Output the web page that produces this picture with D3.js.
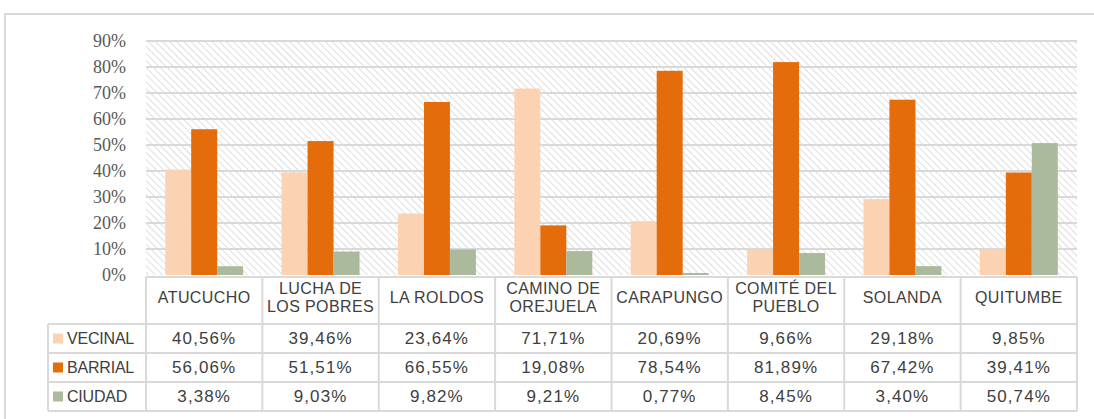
<!DOCTYPE html>
<html><head><meta charset="utf-8">
<script src="https://cdn.jsdelivr.net/npm/d3@7"></script>
<style>
html,body{margin:0;padding:0;background:#fff;}
svg{display:block;}
</style></head>
<body><svg id="chart" width="1094" height="419"></svg>
<script>
const categories = ["ATUCUCHO", "LUCHA DE\nLOS POBRES", "LA ROLDOS", "CAMINO DE\nOREJUELA", "CARAPUNGO", "COMITÉ DEL\nPUEBLO", "SOLANDA", "QUITUMBE"];
const seriesNames = ["VECINAL", "BARRIAL", "CIUDAD"];
const vecinal = [40.56, 39.46, 23.64, 71.71, 20.69, 9.66, 29.18, 9.85];
const barrial = [56.06, 51.51, 66.55, 19.08, 78.54, 81.89, 67.42, 39.41];
const ciudad  = [3.38, 9.03, 9.82, 9.21, 0.77, 8.45, 3.40, 50.74];
const yTicks = [0, 10, 20, 30, 40, 50, 60, 70, 80, 90];
const colors = ["#FBD3B2", "#E46C0A", "#ABBA9C"];

const series = [vecinal, barrial, ciudad];
const svg = d3.select("#chart");
const W = 1094, H = 419;
const plotL = 146, plotR = 1077, plotT = 41, plotB = 275;
const tableTop = 277, headerB = 324, rowH = 29, legendL = 48;
const grid = "#d9d9d9";

// outer border
svg.append("path").attr("d", `M5,${H} L5,14 L${W},14`).attr("fill","none").attr("stroke","#d9d9d9").attr("stroke-width",2);

// hatch pattern
const defs = svg.append("defs");
const pat = defs.append("pattern").attr("id","hatch").attr("patternUnits","userSpaceOnUse")
  .attr("width",5).attr("height",5).attr("patternTransform","rotate(-45)");
pat.append("rect").attr("width",5).attr("height",5).attr("fill","#fff");
pat.append("line").attr("x1",0).attr("y1",0).attr("x2",0).attr("y2",5).attr("stroke","#d4d4d4").attr("stroke-width",1.5);

const x = d3.scaleBand().domain(d3.range(categories.length)).range([plotL, plotR]).padding(0);
const y = d3.scaleLinear().domain([0, 90]).range([plotB, plotT]);
const xi = d3.scaleBand().domain(d3.range(3)).range([0.165*x.bandwidth(), 0.835*x.bandwidth()]).padding(0);

svg.append("rect").attr("x",plotL).attr("y",plotT).attr("width",plotR-plotL).attr("height",plotB-plotT).attr("fill","url(#hatch)");

// gridlines
svg.append("g").selectAll("line").data(yTicks.filter(t=>t>0)).join("line")
  .attr("x1",plotL).attr("x2",plotR).attr("y1",d=>y(d)).attr("y2",d=>y(d))
  .attr("stroke",grid).attr("stroke-width",2);

// y axis labels
const yAxis = d3.axisLeft(y).tickValues(yTicks).tickFormat(d=>d+"%").tickSize(0).tickPadding(0);
const ya = svg.append("g").attr("transform",`translate(126,0)`).call(yAxis)
  .attr("font-family","'Liberation Serif', 'DejaVu Serif', serif").attr("font-size",18);
ya.select(".domain").remove();
ya.selectAll("text").style("font-family","'Liberation Serif', 'DejaVu Serif', serif").style("font-size","18px").attr("fill","#595959");

// bars
const gBars = svg.append("g");
categories.forEach((c,i)=>{
  series.forEach((s,j)=>{
    gBars.append("rect")
      .attr("x", x(i)+xi(j)).attr("width", xi.bandwidth())
      .attr("y", y(s[i])).attr("height", y(0)-y(s[i]))
      .attr("fill", colors[j]);
  });
});

// table
const gT = svg.append("g");
const tableB = headerB + rowH*3;
const fmt = v => d3.format(".2f")(v).replace(".", ",") + "%";
const lineAttrs = sel => sel.attr("stroke",grid).attr("stroke-width",2);
gT.append("line").attr("x1",plotL).attr("x2",plotR).attr("y1",tableTop).attr("y2",tableTop).call(lineAttrs);
for (let r=0;r<=3;r++){
  const yy = headerB + r*rowH;
  gT.append("line").attr("x1",legendL).attr("x2",plotR).attr("y1",yy).attr("y2",yy).call(lineAttrs);
}
gT.append("line").attr("x1",legendL).attr("x2",legendL).attr("y1",headerB).attr("y2",tableB).call(lineAttrs);
for (let i=0;i<=categories.length;i++){
  const xx = i<categories.length ? x(i) : plotR;
  gT.append("line").attr("x1",xx).attr("x2",xx).attr("y1",tableTop).attr("y2",tableB).call(lineAttrs);
}
categories.forEach((c,i)=>{
  const lines = c.split("\n");
  const cx = x(i)+x.bandwidth()/2;
  const cy = (tableTop+headerB)/2 - 3;
  const t = gT.append("text").attr("x",cx).attr("text-anchor","middle")
    .attr("font-family","'Liberation Sans', Arial, sans-serif").attr("font-size",16)
    .attr("fill","#404040").attr("letter-spacing",0.4);
  lines.forEach((ln,k)=>{
    t.append("tspan").attr("x",cx).attr("y", cy + (k-(lines.length-1)/2)*18).attr("dominant-baseline","central").text(ln);
  });
});
seriesNames.forEach((name,j)=>{
  const cy = headerB + j*rowH + rowH/2;
  gT.append("rect").attr("x",53).attr("y",cy-5).attr("width",10).attr("height",10).attr("fill",colors[j]);
  gT.append("text").attr("x",67).attr("y",cy).attr("dominant-baseline","central")
    .attr("font-family","'Liberation Sans', Arial, sans-serif").attr("font-size",16).attr("fill","#404040")
    .attr("letter-spacing",-0.2).text(name);
  series[j].forEach((v,i)=>{
    gT.append("text").attr("x",x(i)+x.bandwidth()/2).attr("y",cy).attr("dominant-baseline","central")
      .attr("text-anchor","middle")
      .attr("font-family","'Liberation Sans', Arial, sans-serif").attr("font-size",17).attr("fill","#404040")
      .attr("letter-spacing",1.1).text(fmt(v));
  });
});
</script>
</body></html>
